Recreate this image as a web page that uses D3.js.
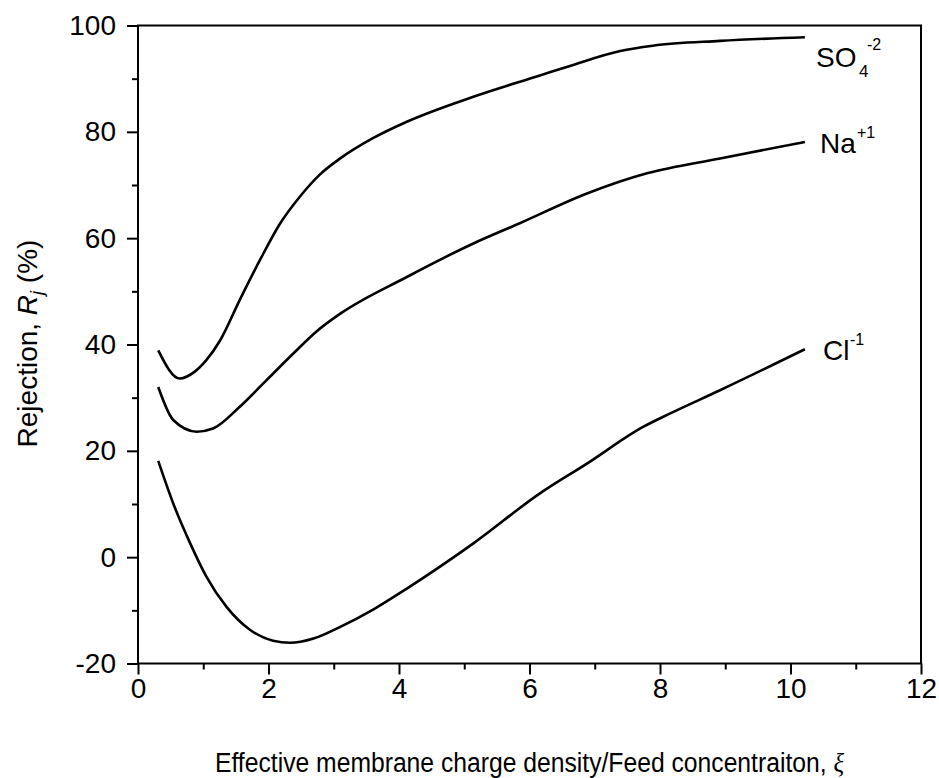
<!DOCTYPE html>
<html>
<head>
<meta charset="utf-8">
<script src="https://cdn.jsdelivr.net/npm/d3@7"></script>
<style>
  html, body { margin: 0; padding: 0; background: #fff; }
  svg text { font-family: "Liberation Sans", Arial, sans-serif; fill: #000; }
</style>
</head>
<body>
<svg id="chart" width="939" height="778"></svg>
<script>
// ---- data ----
const so4X = [0.31, 0.64, 0.87, 1.05, 1.26, 1.56, 1.87, 2.18, 2.48, 2.79, 3.10, 3.60, 4.12, 5.14, 6.16, 6.62, 7.39, 7.89, 8.92, 10.22];
const so4Y = [38.9, 33.6, 34.9, 37.1, 40.8, 48.4, 55.9, 62.8, 67.8, 72.0, 75.0, 78.8, 81.9, 86.6, 90.6, 92.4, 95.2, 96.2, 97.1, 97.8];

const naX = [0.31, 0.54, 0.90, 1.15, 1.56, 1.97, 2.38, 2.74, 3.10, 4.12, 5.14, 5.85, 6.88, 7.80, 8.92, 10.22];
const naY = [32.0, 25.8, 23.6, 24.2, 28.3, 33.3, 38.3, 42.5, 45.8, 52.7, 59.0, 62.8, 68.4, 72.2, 75.0, 78.1];

const clX = [0.31, 0.54, 0.80, 1.05, 1.36, 1.72, 2.07, 2.33, 2.69, 3.10, 3.61, 4.12, 5.14, 6.16, 6.88, 7.74, 8.15, 8.92, 10.22];
const clY = [18.1, 10.1, 2.6, -3.7, -9.4, -13.7, -15.7, -16.1, -15.3, -13.1, -9.8, -5.9, 2.6, 12.0, 17.6, 24.5, 27.0, 31.4, 39.1];

const xTicks = [0, 2, 4, 6, 8, 10, 12];
const yTicks = [-20, 0, 20, 40, 60, 80, 100];
const xMinor = [1, 3, 5, 7, 9, 11];
const yMinor = [-10, 10, 30, 50, 70, 90];

// ---- layout ----
const svg = d3.select("#chart");
const L = 138, R = 921, T = 25.5, B = 663.5;

const x = d3.scaleLinear().domain([0, 12]).range([L, R]);
const y = d3.scaleLinear().domain([-20, 100]).range([B, T]);

// frame
svg.append("rect")
  .attr("x", L).attr("y", T).attr("width", R - L).attr("height", B - T)
  .attr("fill", "none").attr("stroke", "#000").attr("stroke-width", 2);

function styleAxis(g) {
  g.select(".domain").remove();
  g.selectAll(".tick line").attr("stroke", "#000").attr("stroke-width", 2);
  g.selectAll(".tick text").attr("font-size", 28).attr("fill", "#000")
    .attr("font-family", "'Liberation Sans', Arial, sans-serif");
}

svg.append("g").attr("transform", `translate(0,${B})`)
  .call(d3.axisBottom(x).tickValues(xTicks).tickFormat(d3.format("d")).tickSize(11).tickPadding(4))
  .call(styleAxis);
svg.append("g").attr("transform", `translate(0,${B})`)
  .call(d3.axisBottom(x).tickValues(xMinor).tickFormat("").tickSize(6))
  .call(styleAxis);

svg.append("g").attr("transform", `translate(${L},0)`)
  .call(d3.axisLeft(y).tickValues(yTicks).tickFormat(d => d < 0 ? "-" + Math.abs(d) : d).tickSize(11).tickPadding(11))
  .call(styleAxis);
svg.append("g").attr("transform", `translate(${L},0)`)
  .call(d3.axisLeft(y).tickValues(yMinor).tickFormat("").tickSize(6))
  .call(styleAxis);

// curves
const line = d3.line().x(d => x(d[0])).y(d => y(d[1])).curve(d3.curveMonotoneX);
const series = [d3.zip(so4X, so4Y), d3.zip(naX, naY), d3.zip(clX, clY)];
svg.append("g").selectAll("path").data(series).join("path")
  .attr("d", line)
  .attr("fill", "none").attr("stroke", "#000").attr("stroke-width", 2.6)
  .attr("stroke-linejoin", "round");

// series labels
const lab = svg.append("g");
const t1 = lab.append("text").attr("x", 816).attr("y", 67).attr("font-size", 28);
t1.append("tspan").text("SO");
t1.append("tspan").attr("font-size", 17).attr("x", 859).attr("y", 77).text("4");
t1.append("tspan").attr("font-size", 16).attr("x", 867).attr("y", 50).text("-2");

const t2 = lab.append("text").attr("x", 820).attr("y", 153).attr("font-size", 28);
t2.append("tspan").text("Na");
t2.append("tspan").attr("font-size", 16).attr("x", 857).attr("y", 138).text("+1");

const t3 = lab.append("text").attr("x", 823).attr("y", 360).attr("font-size", 28);
t3.append("tspan").text("Cl");
t3.append("tspan").attr("font-size", 16).attr("x", 850).attr("y", 345).text("-1");

// axis titles
const yt = svg.append("text")
  .attr("transform", `translate(37,${(T + B) / 2 - 1}) rotate(-90)`)
  .attr("text-anchor", "middle").attr("font-size", 28);
yt.append("tspan").text("Rejection, ");
yt.append("tspan").attr("font-style", "italic").text("R");
yt.append("tspan").attr("font-style", "italic").attr("font-size", 18).attr("dy", 6).text("j");
yt.append("tspan").attr("dy", -6).text(" (%)");

const cx = (L + R) / 2;
const xt = svg.append("text")
  .attr("transform", `translate(${cx},772) scale(0.915,1)`)
  .attr("text-anchor", "middle").attr("font-size", 27);
xt.append("tspan").text("Effective membrane charge density/Feed concentraiton, ");
xt.append("tspan").attr("font-style", "italic")
  .attr("font-family", "'Liberation Serif', 'DejaVu Serif', serif").text("ξ");
</script>
</body>
</html>
